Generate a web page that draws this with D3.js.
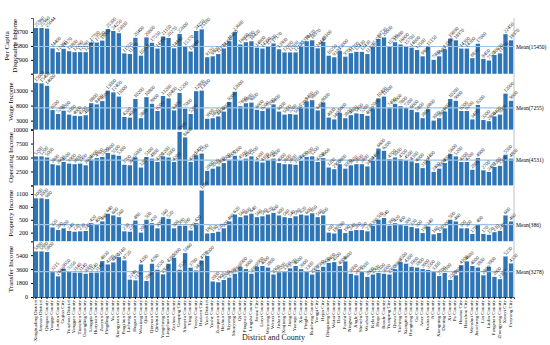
<!DOCTYPE html>
<html>
<head>
<meta charset="utf-8">
<script src="https://cdn.jsdelivr.net/npm/d3@7"></script>
<style>
body { margin: 0; background: #fff; }
svg { display: block; font-family: "Liberation Serif", "Times New Roman", serif; }
</style>
</head>
<body>
<div id="chart"></div>
<script>
var counties = ["Xinghualing District", "Jinyuan District", "Qingxu County", "Yangqu County", "Loufan County", "Gujiao City",
    "Yunzhou District", "Yanggao County", "Tianzhen County", "Guangling County", "Lingqiu County", "Hunyuan County", "Zuoyun County",
    "Pingding County", "Yu County", "Xiangyuan County", "Pingshun County", "Licheng County", "Huguan County", "Wuxiang County",
    "Qin County", "Qinyuan County", "Qinshui County", "Yangcheng County", "Lingchuan County", "Zezhou County", "Gaoping City",
    "Shanyin County", "Ying County", "Youyu County", "Huairen City", "Yuci District", "Yushe County", "Zuoquan County",
    "Heshun County", "Xiyang County", "Shouyang County", "Qi County", "Pingyao County", "Lingshi County", "Jiexiu City",
    "Linyi County", "Wanrong County", "Wenxi County", "Jishan County", "Xinjiang County", "Jiang County", "Yuanqu County",
    "Xia County", "Pinglu County", "Ruicheng County", "Yongji City", "Hejin City", "Dingxiang County", "Wutai County",
    "Dai County", "Fanshi County", "Ningwu County", "Jingle County", "Shenchi County", "Wuzhai County", "Kelan County",
    "Hequ County", "Baode County", "Yuanping City", "Quwo County", "Yicheng County", "Xiangfen County", "Hongtong County",
    "Gu County", "Anze County", "Fushan County", "Ji County", "Xiangning County", "Daning County", "Xi County",
    "Pu County", "Houma City", "Huozhou City", "Wenshui County", "Jiaocheng County", "Lin County", "Liulin County",
    "Fangshan County", "Zhongyang County", "Xiaoyi City", "Fenyang City"];

var perCapita = [25960, 25960, 25644, 14400, 12260, 14170, 12800, 12260, 12260, 12260, 17700, 17700, 18800, 25300, 24250, 23000,
    11550, 11170, 20400, 10250, 20600, 17550, 14300, 21150, 20270, 14440, 22600, 15370, 12640, 24250, 25180, 9370,
    9900, 11170, 14300, 18420, 23600, 16600, 17880, 18420, 14800, 14300, 15700, 17170, 13900, 12100, 12100, 12100,
    15370, 18420, 18970, 14440, 18100, 10250, 9370, 13000, 9700, 11700, 12430, 12430, 11170, 15370, 19730, 20600,
    15700, 17880, 16600, 15700, 14800, 13500, 9900, 15150, 7900, 9900, 13900, 19890, 18970, 14300, 14300, 8830,
    17000, 8450, 7520, 10630, 11550, 22450, 18970];
var wage = [15600, 15400, 14600, 6500, 5200, 6300, 5000, 4600, 4500, 4800, 8800, 8400, 9500, 13000, 12400, 11000,
    4200, 4000, 10200, 3800, 10800, 8600, 6200, 11200, 10400, 6400, 12200, 7000, 5200, 12800, 13000, 3600,
    3800, 4400, 6000, 9200, 12600, 7800, 8800, 9000, 6600, 6200, 7200, 8400, 6000, 5000, 5200, 5000,
    7200, 9400, 9800, 6400, 9000, 4000, 3400, 5600, 3800, 4800, 5400, 5200, 4600, 7000, 10400, 11000,
    7400, 8600, 7800, 7200, 6600, 5800, 3800, 6800, 3000, 3800, 6000, 10200, 9600, 6200, 6200, 3400,
    8200, 3200, 2800, 4400, 5000, 12000, 9600];
var operating = [5200, 5200, 5000, 3800, 3600, 4200, 3900, 3800, 3900, 3600, 4600, 4900, 5100, 5800, 5500, 5300,
    3700, 3600, 5000, 3200, 5100, 4800, 4200, 5200, 5000, 4200, 9600, 8600, 4200, 5400, 5700, 2600,
    3000, 3400, 4000, 4600, 5300, 4500, 4800, 5200, 4300, 4100, 4500, 4800, 4000, 3800, 3800, 3700,
    4400, 5100, 5200, 4200, 4900, 3200, 2900, 3800, 3000, 3600, 3800, 3800, 3400, 4400, 6600, 6200,
    4700, 5000, 4700, 4500, 4300, 4000, 3100, 4400, 2400, 3000, 4000, 5600, 5200, 4200, 4200, 2800,
    4900, 2700, 2400, 3300, 3500, 5500, 4800];
var property = [1000, 1000, 980, 320, 260, 300, 240, 220, 230, 240, 420, 400, 460, 640, 600, 560,
    230, 220, 480, 200, 500, 420, 300, 560, 520, 300, 360, 360, 250, 420, 1180, 180,
    190, 220, 300, 460, 620, 560, 600, 640, 560, 580, 620, 660, 600, 560, 540, 580,
    620, 600, 650, 560, 600, 200, 180, 280, 190, 240, 260, 260, 230, 360, 500, 540,
    360, 420, 400, 360, 330, 300, 190, 340, 160, 190, 300, 500, 460, 300, 300, 170,
    400, 170, 150, 210, 240, 600, 460];
var transfer = [5880, 5880, 5800, 3215, 2660, 3650, 3350, 3140, 3140, 3000, 3140, 3140, 4630, 4200, 4460, 5140,
    4720, 2240, 2150, 4200, 2060, 4290, 3520, 2920, 4290, 5060, 3520, 5660, 3780, 3430, 4700, 5300,
    2000, 1900, 2200, 2500, 3000, 3900, 3600, 3000, 3900, 4000, 3800, 2900, 3200, 3300, 3700, 4000,
    3600, 3300, 2900, 3500, 3900, 4400, 4500, 4000, 4600, 3000, 2800, 3300, 2600, 2900, 3100, 3000,
    2900, 3600, 4500, 4300, 3900, 3800, 3600, 3500, 3300, 2700, 3100, 2200, 2800, 4100, 4600, 4000,
    3800, 2800, 3900, 2600, 2300, 5230, 4330];

var panelTitles = [["Per Capita", "Disposable Income"], ["Wage Income"], ["Operating Income"], ["Property Income"], ["Transfer Income"]];
var panelMeans = [15450, 7255, 4531, 386, 3278];
var panelTicks = [[7900, 15800, 23700], [3000, 8000, 13000], [2500, 5000, 7500, 10000], [200, 500, 800, 1100], [1800, 3600, 5400]];
var panelMax = [31600, 18600, 10000, 1300, 7200];

var width = 550, height = 345;
var left = 33, right = 514, top0 = 18, bottom = 297;
var panelH = (bottom - top0) / 5;
var blue = "#2e75b6";

var svg = d3.select("#chart").append("svg")
    .attr("width", width).attr("height", height);

var x = d3.scaleBand().domain(counties).range([left, right]).paddingInner(0.22).paddingOuter(0.15);

var series = [perCapita, wage, operating, property, transfer];

series.forEach(function (vals, p) {
    var y0 = top0 + panelH * (p + 1);
    var y = d3.scaleLinear().domain([0, panelMax[p]]).range([y0, y0 - panelH]);
    var g = svg.append("g");

    g.selectAll("rect").data(vals).enter().append("rect")
        .attr("x", function (d, i) { return x(counties[i]); })
        .attr("y", function (d) { return y(d); })
        .attr("width", x.bandwidth())
        .attr("height", function (d) { return y0 - y(d); })
        .attr("fill", blue);

    // mean line
    g.append("line")
        .attr("x1", left).attr("x2", right)
        .attr("y1", y(panelMeans[p])).attr("y2", y(panelMeans[p]))
        .attr("stroke", "#9cc3e6").attr("stroke-width", 1.2);
    g.append("text")
        .attr("x", right + 2).attr("y", y(panelMeans[p]) + 2)
        .style("font-size", "5.6px")
        .text("Mean(" + panelMeans[p] + ")");

    // value labels
    g.selectAll("text.v").data(vals).enter().append("text")
        .attr("class", "v")
        .attr("transform", function (d, i) {
            return "translate(" + (x(counties[i]) + x.bandwidth() / 2) + "," + (y(d) - 1) + ") rotate(-45)";
        })
        .attr("fill", "#222")
        .style("font-size", "5px")
        .text(function (d) { return d; });

    var axis = g.append("g").attr("transform", "translate(" + left + ",0)")
        .call(d3.axisLeft(y).tickValues([0].concat(panelTicks[p])).tickSize(2).tickFormat(function (d) { return d === 0 && p < 4 ? "" : d; }));
    axis.selectAll("text").style("font-size", "6px").style("font-family", "Liberation Serif");
    axis.select(".domain").attr("stroke", "#555");

    g.append("line").attr("x1", right).attr("x2", right).attr("y1", y0 - panelH).attr("y2", y0).attr("stroke", "#999").attr("stroke-width", 0.6);

    var tl = panelTitles[p];
    g.append("text")
        .attr("transform", "translate(" + (tl.length > 1 ? 9 : 13) + "," + (y0 - panelH / 2) + ") rotate(-90)")
        .attr("text-anchor", "middle")
        .style("font-size", "7px")
        .selectAll("tspan").data(tl).enter().append("tspan")
        .attr("x", 0).attr("dy", function (d, i) { return i ? 8 : 0; })
        .text(function (d) { return d; });
});

var xa = svg.append("g").attr("transform", "translate(0," + bottom + ")")
    .call(d3.axisBottom(x).tickSize(2));
xa.select(".domain").attr("stroke", "#555");
xa.selectAll("text")
    .style("font-size", "5px")
    .style("font-family", "Liberation Serif")
    .attr("text-anchor", "end")
    .attr("transform", "rotate(-90)")
    .attr("x", -3).attr("y", -1).attr("dy", "0.32em");

svg.append("text")
    .attr("x", (left + right) / 2).attr("y", 340)
    .attr("text-anchor", "middle")
    .attr("fill", "#222")
    .style("font-size", "8px")
    .text("District and County");
</script>
</body>
</html>
